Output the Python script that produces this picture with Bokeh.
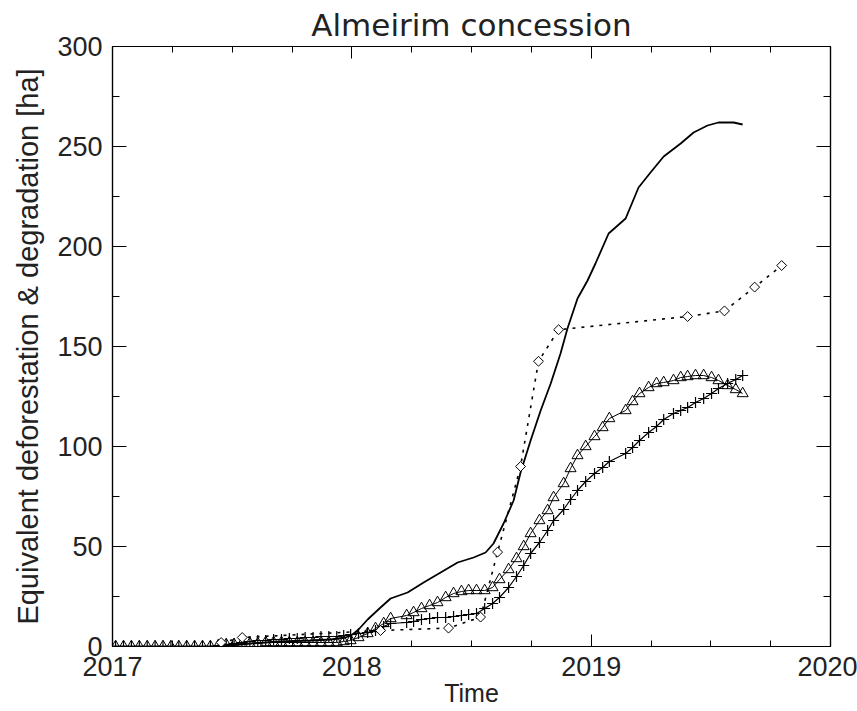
from bokeh.plotting import figure
from bokeh.models import FixedTicker, LinearAxis, Range1d
from bokeh.embed import file_html
from bokeh.resources import INLINE

title_text = "Almeirim concession"
x_label = "Time"
y_label = "Equivalent deforestation & degradation [ha]"

x_major = [2017, 2018, 2019, 2020]
x_minor = [2017.25, 2017.5, 2017.75, 2018.25, 2018.5, 2018.75, 2019.25, 2019.5, 2019.75]
y_major = [0, 50, 100, 150, 200, 250, 300]
y_minor = [25, 75, 125, 175, 225, 275]

# solid curve (no markers)
line_t = [2017.0, 2017.451, 2017.577, 2017.702, 2017.827, 2017.911, 2017.974, 2018.003, 2018.028,
          2018.066, 2018.120, 2018.162, 2018.233, 2018.300, 2018.371, 2018.442, 2018.509, 2018.559,
          2018.592, 2018.634, 2018.676, 2018.705, 2018.747, 2018.789, 2018.831, 2018.872, 2018.901,
          2018.943, 2018.985, 2019.018, 2019.073, 2019.144, 2019.198, 2019.248, 2019.303, 2019.374,
          2019.428, 2019.486, 2019.532, 2019.595, 2019.633]
line_v = [0, 0, 1.5, 2.5, 3, 3.5, 4.5, 6, 8.5,
          13.5, 19.5, 24, 27, 32, 37, 42, 44.5, 47,
          51.5, 61.5, 73, 87, 103, 118, 131.5, 146.5, 159,
          174, 183, 191.5, 206.5, 214, 229.5, 237, 245, 251.5,
          257, 260.5, 262, 262, 261]

# triangle and plus series share acquisition dates
mark_t = [2017.013, 2017.046, 2017.079, 2017.112, 2017.145, 2017.178, 2017.211, 2017.244, 2017.277,
          2017.310, 2017.343, 2017.376, 2017.409, 2017.442, 2017.475, 2017.508, 2017.541, 2017.574,
          2017.607, 2017.640, 2017.673, 2017.706, 2017.739, 2017.772, 2017.805, 2017.838, 2017.871,
          2017.904, 2017.937, 2017.966, 2017.995, 2018.028, 2018.066, 2018.099, 2018.133, 2018.162,
          2018.229, 2018.258, 2018.291, 2018.325, 2018.358, 2018.392, 2018.425, 2018.458, 2018.488,
          2018.521, 2018.555, 2018.588, 2018.617, 2018.655, 2018.688, 2018.718, 2018.747, 2018.784,
          2018.818, 2018.843, 2018.885, 2018.914, 2018.943, 2018.977, 2019.014, 2019.048, 2019.076,
          2019.144, 2019.173, 2019.202, 2019.240, 2019.273, 2019.303, 2019.344, 2019.374, 2019.403,
          2019.436, 2019.470, 2019.503, 2019.532, 2019.570, 2019.604, 2019.633]
tri_v = [0, 0, 0, 0, 0, 0, 0, 0, 0,
         0, 0, 0, 0, 0.5, 1, 1, 1.5, 1.5,
         1.5, 2, 2, 2, 2, 2, 2, 2, 2,
         2, 2, 2.5, 3, 4.5, 6.5, 9, 11.5, 14,
         15.5, 17, 19, 20.5, 22, 24.5, 26.5, 27.5, 28,
         28, 28, 29.5, 33.5, 38.5, 44, 50, 56.5, 63,
         68, 74.5, 81.5, 89, 95.5, 100, 105, 109.5, 114,
         118, 122.5, 126.5, 129.5, 131.5, 132, 133, 134.5, 135,
         135.5, 135.5, 134.5, 133, 130.5, 128.5, 126.5]
plus_v = [0, 0, 0, 0, 0, 0, 0, 0, 0,
          0, 0, 0, 0, 0.5, 1, 1.5, 2, 2.5,
          3, 3, 3.5, 3.5, 4, 4, 4.5, 4.5, 5,
          5, 5, 5.5, 6, 6.5, 7, 8, 10, 11.5,
          12, 12.5, 13.5, 14, 14.5, 14.5, 15, 15.5, 16,
          16.5, 19, 21.5, 24.5, 29.5, 35, 40.5, 46.5, 52,
          58, 63, 68.5, 73.5, 78, 82.5, 86.5, 89.5, 92.5,
          96.5, 99.5, 103, 107, 110, 113.5, 116.5, 118, 119.5,
          122, 124, 126.5, 129, 131.5, 133.5, 135.5]

# diamond series (dotted)
dia_t = [2017.454, 2017.542, 2018.120, 2018.404, 2018.538, 2018.609, 2018.705, 2018.780, 2018.864,
         2019.403, 2019.557, 2019.683, 2019.796]
dia_v = [2, 4.5, 8, 9.2, 14.7, 47.2, 90, 142.6, 158.4,
         165, 167.8, 179.7, 190.5]

p = figure(width=857, height=711, output_backend="svg", toolbar_location=None,
           x_range=Range1d(2017, 2020), y_range=Range1d(0, 300),
           min_border_left=112, min_border_right=27, min_border_top=46, min_border_bottom=65,
           title=title_text, background_fill_color="white", border_fill_color="white")

bx = p.below[0]
ly = p.left[0]

p.xgrid.visible = False
p.ygrid.visible = False
p.outline_line_color = "black"
p.outline_line_width = 1.2

p.title.align = "center"
p.title.text_font = "DejaVu Sans"
p.title.text_font_size = "31px"
p.title.text_font_style = "normal"
p.title.text_color = "#222222"
p.title.standoff = 8

xt = FixedTicker(ticks=x_major, minor_ticks=x_minor)
yt = FixedTicker(ticks=y_major, minor_ticks=y_minor)

top = LinearAxis()
right = LinearAxis()
p.add_layout(top, "above")
p.add_layout(right, "right")

for ax in [bx, top]:
    ax.ticker = xt
    ax.major_tick_in = 12
    ax.major_tick_out = 0
    ax.minor_tick_in = 6
    ax.minor_tick_out = 0
for ax in [ly, right]:
    ax.ticker = yt
    ax.major_tick_in = 14
    ax.major_tick_out = 0
    ax.minor_tick_in = 7
    ax.minor_tick_out = 0
for ax in [bx, top, ly, right]:
    ax.axis_line_color = "black"
    ax.major_tick_line_color = "black"
    ax.minor_tick_line_color = "black"
    ax.axis_line_width = 1.2
for ax in [top, right]:
    ax.major_label_text_font_size = "1px"
    ax.major_label_text_color = None
    ax.major_label_standoff = 0
    ax.axis_label = None

bx.axis_label = x_label
bx.major_label_text_font = "Liberation Sans"
bx.major_label_text_font_size = "27px"
bx.major_label_text_color = "#222222"
bx.major_label_standoff = 10
bx.axis_label_text_font = "Liberation Sans"
bx.axis_label_text_font_size = "25px"
bx.axis_label_text_font_style = "normal"
bx.axis_label_text_color = "#222222"
bx.axis_label_standoff = 0

ly.axis_label = y_label
ly.major_label_text_font = "Liberation Sans"
ly.major_label_text_font_size = "27px"
ly.major_label_text_color = "#222222"
ly.major_label_standoff = 10
ly.axis_label_text_font = "Liberation Sans"
ly.axis_label_text_font_size = "29px"
ly.axis_label_text_font_style = "normal"
ly.axis_label_text_color = "#222222"
ly.axis_label_standoff = 10

p.line(line_t, line_v, line_color="black", line_width=1.8)

p.line(mark_t, tri_v, line_color="black", line_width=1.0)
p.scatter(mark_t, tri_v, marker="triangle", size=11, fill_color=None, line_color="black", line_width=1.0)

p.line(mark_t, plus_v, line_color="black", line_width=1.2)
p.scatter(mark_t, plus_v, marker="cross", size=11, line_color="black", line_width=1.2)

p.line(dia_t, dia_v, line_color="black", line_width=1.6, line_dash="3 6")
p.scatter(dia_t, dia_v, marker="square", angle=0.785398, size=7, fill_color="white", line_color="black", line_width=1.0)

open("out.html", "w").write(file_html(p, INLINE))
